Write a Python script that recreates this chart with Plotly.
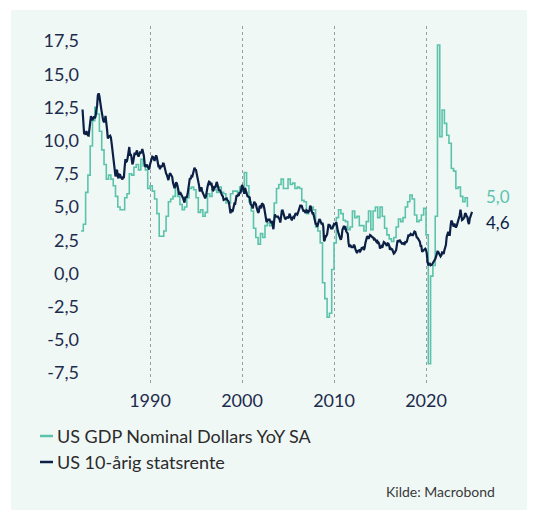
import pandas as pd
import plotly.graph_objects as go

# ── Data ──────────────────────────────────────────────────────────────────────
GDP_NAME = "US GDP Nominal Dollars YoY SA"
YIELD_NAME = "US 10-årig statsrente"
SOURCE = "Kilde: Macrobond"

# Nominal GDP, % y/y, quarterly from 1982Q3 to 2024Q3
GDP_START = "1982-07-01"
GDP_YOY = [
    3.2, 3.7,
    6.1, 7.4, 9.6, 11.5,
    12.5, 12.0, 10.7, 9.3,
    8.2, 7.1, 7.4, 7.1,
    6.6, 5.8, 5.0, 4.8,
    4.8, 5.7, 6.0, 7.5,
    7.4, 8.0, 8.2, 7.8,
    8.6, 8.1, 7.8, 6.4,
    6.6, 6.2, 5.6, 4.5,
    2.8, 2.8, 3.2, 4.3,
    5.4, 5.6, 5.8, 6.6,
    5.8, 5.2, 4.8, 5.0,
    5.7, 6.4, 6.5, 6.3,
    5.7, 4.6, 4.8, 4.3,
    4.6, 6.0, 5.8, 6.3,
    6.3, 6.1, 6.5, 6.1,
    6.0, 5.3, 5.3, 6.0,
    6.2, 6.2, 6.1, 6.5,
    6.2, 7.6, 6.6, 5.4,
    4.7, 3.4, 2.7, 2.2,
    3.0, 2.7, 3.6, 3.8,
    3.6, 3.9, 5.3, 6.4,
    6.7, 7.1, 6.4, 6.4,
    7.1, 6.7, 6.8, 6.4,
    6.5, 6.4, 5.5, 5.4,
    4.5, 4.7, 5.0, 4.8,
    3.5, 3.2, 2.3, -0.7,
    -1.9, -3.3, -3.0, 0.3,
    2.3, 4.2, 4.8, 4.5,
    4.0, 3.9, 3.3, 3.5,
    4.7, 4.2, 4.3, 3.6,
    3.6, 3.2, 3.9, 4.7,
    3.3, 4.7, 5.0, 4.2,
    5.0, 4.3, 3.4, 2.9,
    2.6, 2.4, 2.7, 3.5,
    4.1, 3.9, 4.2, 5.0,
    5.4, 5.9, 5.6, 4.4,
    3.9, 4.0, 4.4, 4.9,
    2.9, -6.8, -0.2, 0.6,
    4.3, 17.2, 10.3, 12.3,
    11.3, 10.4, 9.8, 7.9,
    7.7, 6.4, 6.5, 5.8,
    5.4, 5.7, 5.0,
]

# US 10y treasury yield, %, monthly from Sep 1982 to Jan 2025
YIELD_START = "1982-09-01"
YIELD_10Y = [
    12.34, 10.91, 10.55, 10.54,
    10.46, 10.72, 10.51, 10.40, 10.38, 10.85, 11.38, 11.85, 11.65, 11.54, 11.69, 11.83,
    11.67, 11.84, 12.32, 12.63, 13.41, 13.56, 13.36, 12.72, 12.52, 12.16, 11.57, 11.50,
    11.38, 11.51, 11.86, 11.43, 10.85, 10.16, 10.31, 10.33, 10.37, 10.24, 9.78, 9.26,
    9.19, 8.70, 7.78, 7.30, 7.71, 7.80, 7.30, 7.17, 7.45, 7.43, 7.25, 7.11,
    7.08, 7.25, 7.25, 8.02, 8.61, 8.40, 8.45, 8.76, 9.42, 9.52, 8.86, 8.99,
    8.67, 8.21, 8.37, 8.72, 9.09, 8.92, 9.06, 9.26, 8.98, 8.80, 8.96, 9.11,
    9.09, 9.17, 9.36, 9.18, 8.86, 8.28, 8.02, 8.11, 8.19, 8.01, 7.87, 7.84,
    8.21, 8.47, 8.59, 8.79, 8.76, 8.48, 8.47, 8.75, 8.89, 8.72, 8.39, 8.08,
    8.09, 7.85, 8.11, 8.04, 8.07, 8.28, 8.27, 7.90, 7.65, 7.53, 7.42, 7.09,
    7.03, 7.34, 7.54, 7.48, 7.39, 7.26, 6.84, 6.59, 6.42, 6.59, 6.87, 6.77,
    6.60, 6.26, 5.98, 5.97, 6.04, 5.96, 5.81, 5.68, 5.36, 5.33, 5.72, 5.77,
    5.75, 5.97, 6.48, 6.97, 7.18, 7.10, 7.30, 7.24, 7.46, 7.74, 7.96, 7.81,
    7.78, 7.47, 7.20, 7.06, 6.63, 6.17, 6.28, 6.49, 6.20, 6.04, 5.93, 5.71,
    5.65, 5.81, 6.27, 6.51, 6.74, 6.91, 6.87, 6.64, 6.83, 6.53, 6.20, 6.30,
    6.58, 6.42, 6.69, 6.89, 6.71, 6.49, 6.22, 6.30, 6.21, 6.03, 5.88, 5.81,
    5.54, 5.57, 5.65, 5.64, 5.65, 5.50, 5.46, 5.34, 4.81, 4.53, 4.83, 4.65,
    4.72, 5.00, 5.23, 5.18, 5.54, 5.90, 5.79, 5.94, 5.92, 6.11, 6.03, 6.28,
    6.66, 6.52, 6.26, 5.99, 6.44, 6.10, 6.05, 5.83, 5.80, 5.74, 5.72, 5.24,
    5.16, 5.10, 4.89, 5.14, 5.39, 5.28, 5.24, 4.97, 4.73, 4.57, 4.65, 5.09,
    5.04, 4.91, 5.28, 5.21, 5.16, 4.93, 4.65, 4.26, 3.87, 3.94, 4.05, 4.03,
    4.05, 3.90, 3.81, 3.96, 3.57, 3.33, 3.98, 4.45, 4.27, 4.29, 4.30, 4.27,
    4.15, 4.08, 3.83, 4.35, 4.72, 4.73, 4.50, 4.28, 4.13, 4.10, 4.19, 4.23,
    4.22, 4.17, 4.50, 4.34, 4.14, 4.00, 4.18, 4.26, 4.20, 4.46, 4.54, 4.47,
    4.42, 4.57, 4.72, 4.99, 5.11, 5.11, 5.09, 4.88, 4.72, 4.73, 4.60, 4.56,
    4.76, 4.72, 4.56, 4.69, 4.75, 5.10, 5.00, 4.67, 4.52, 4.53, 4.15, 4.10,
    3.74, 3.74, 3.51, 3.68, 3.88, 4.10, 4.01, 3.89, 3.69, 3.81, 3.53, 2.42,
    2.52, 2.87, 2.82, 2.93, 3.29, 3.72, 3.56, 3.59, 3.40, 3.39, 3.40, 3.59,
    3.73, 3.69, 3.73, 3.85, 3.42, 3.20, 3.01, 2.70, 2.65, 2.54, 2.76, 3.29,
    3.39, 3.58, 3.41, 3.46, 3.17, 3.00, 3.00, 2.30, 1.98, 2.15, 2.01, 1.98,
    1.97, 1.97, 2.17, 2.05, 1.80, 1.62, 1.53, 1.68, 1.72, 1.75, 1.65, 1.72,
    1.91, 1.98, 1.96, 1.76, 1.93, 2.30, 2.58, 2.74, 2.81, 2.62, 2.72, 2.90,
    2.86, 2.71, 2.72, 2.71, 2.56, 2.60, 2.54, 2.42, 2.53, 2.30, 2.33, 2.21,
    1.88, 1.98, 2.04, 1.94, 2.20, 2.36, 2.32, 2.17, 2.17, 2.07, 2.26, 2.24,
    2.09, 1.78, 1.89, 1.81, 1.81, 1.64, 1.50, 1.56, 1.63, 1.76, 2.14, 2.49,
    2.43, 2.42, 2.48, 2.30, 2.30, 2.19, 2.32, 2.21, 2.20, 2.36, 2.35, 2.40,
    2.58, 2.86, 2.84, 2.87, 2.98, 2.91, 2.89, 2.89, 3.00, 3.15, 3.12, 2.83,
    2.71, 2.68, 2.57, 2.53, 2.40, 2.07, 2.06, 1.63, 1.70, 1.71, 1.81, 1.86,
    1.76, 1.50, 0.87, 0.66, 0.67, 0.73, 0.62, 0.65, 0.68, 0.79, 0.87, 0.93,
    1.08, 1.26, 1.61, 1.64, 1.62, 1.52, 1.32, 1.28, 1.37, 1.58, 1.56, 1.47,
    1.76, 1.93, 2.13, 2.75, 2.90, 3.14, 2.90, 2.90, 3.52, 3.98, 3.89, 3.62,
    3.53, 3.75, 3.66, 3.46, 3.57, 3.75, 3.90, 4.17, 4.38, 4.80, 4.50, 4.02,
    4.06, 4.21, 4.21, 4.54, 4.48, 4.31, 4.25, 3.87, 3.72, 4.10, 4.36, 4.39,
    4.63,
]

Y_TICKS = [-7.5, -5.0, -2.5, 0.0, 2.5, 5.0, 7.5, 10.0, 12.5, 15.0, 17.5]
Y_TICK_LABELS = ["-7,5", "-5,0", "-2,5", "0,0", "2,5", "5,0", "7,5",
                 "10,0", "12,5", "15,0", "17,5"]
X_TICK_YEARS = ["1990", "2000", "2010", "2020"]

TEAL = "#5CC3AB"
NAVY = "#0C1F45"
PANEL = "#F0F8F6"
TICK_COLOR = "#1D2B4C"
FONT = "Lato"

gdp_dates = pd.date_range(GDP_START, periods=len(GDP_YOY), freq="QS")
yield_dates = pd.date_range(YIELD_START, periods=len(YIELD_10Y), freq="MS")

# ── Figure ────────────────────────────────────────────────────────────────────
fig = go.Figure()
fig.add_trace(go.Scatter(x=gdp_dates, y=GDP_YOY, name=GDP_NAME, mode="lines",
                         line=dict(color=TEAL, width=1.6, shape="hv")))
fig.add_trace(go.Scatter(x=yield_dates, y=YIELD_10Y, name=YIELD_NAME, mode="lines",
                         line=dict(color=NAVY, width=2.2)))

# plot area on screen: x 80..480 px, y 26..385 px (page has an 8px body margin)
def px_x(p):
    return (p - 80) / 400

def px_y(p):
    return (385 - p) / 359

shapes = [dict(type="rect", xref="paper", yref="paper",
               x0=px_x(11), x1=px_x(540), y0=px_y(510), y1=px_y(10),
               fillcolor=PANEL, line=dict(width=0), layer="below")]
annotations = []

# legend drawn by hand (short line swatches)
for name, color, py in [(GDP_NAME, TEAL, 436), (YIELD_NAME, NAVY, 462)]:
    shapes.append(dict(type="line", xref="paper", yref="paper",
                       x0=px_x(40), x1=px_x(53), y0=px_y(py), y1=px_y(py),
                       line=dict(color=color, width=2.5)))
    annotations.append(dict(xref="paper", yref="paper", x=px_x(55), y=px_y(py),
                            xanchor="left", yanchor="middle", showarrow=False,
                            text=name, font=dict(size=18, color="#2B2B2B")))

annotations.append(dict(xref="paper", yref="paper", x=px_x(497), y=px_y(491),
                        xanchor="right", yanchor="middle", showarrow=False,
                        text=SOURCE, font=dict(size=14, color="#3A3A3A")))

# end-value labels
for val, color, shift in [(GDP_YOY[-1], TEAL, 11), (YIELD_10Y[-1], NAVY, -11)]:
    annotations.append(dict(xref="paper", yref="y", x=px_x(484), y=val, yshift=shift,
                            xanchor="left", yanchor="middle", showarrow=False,
                            text=f"{val:.1f}".replace(".", ","),
                            font=dict(size=17, color=color)))

fig.update_layout(
    width=527, height=505,
    margin=dict(l=72, r=55, t=18, b=128),
    paper_bgcolor="white", plot_bgcolor=PANEL,
    font=dict(family=FONT, color=TICK_COLOR),
    showlegend=False,
    shapes=shapes, annotations=annotations,
    xaxis=dict(type="date", range=["1982-05-23", "2025-11-14"],
               tickvals=[f"{y}-01-01" for y in X_TICK_YEARS], ticktext=X_TICK_YEARS,
               showgrid=True, gridcolor="#9C9C9C", griddash="dot", gridwidth=1,
               zeroline=False, showline=False, ticks="", ticklabelstandoff=3,
               tickfont=dict(size=18, color=TICK_COLOR)),
    yaxis=dict(range=[-8.4, 18.63], tickvals=Y_TICKS, ticktext=Y_TICK_LABELS,
               showgrid=False, zeroline=False, showline=False, ticks="",
               tickfont=dict(size=18, color=TICK_COLOR)),
)

fig.write_html("out.html")
